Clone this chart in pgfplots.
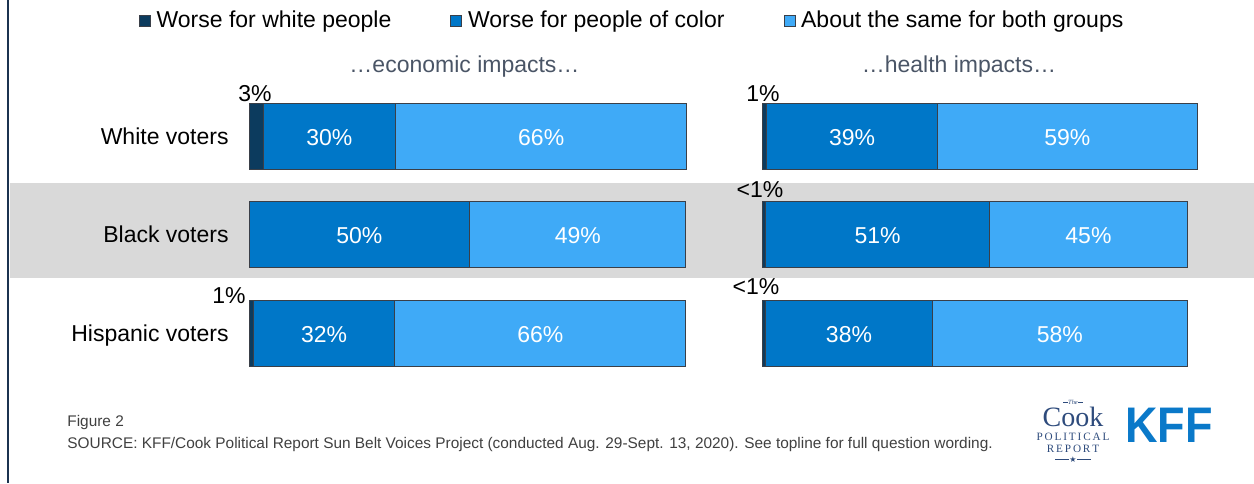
\documentclass[border=0pt]{standalone}
\usepackage{graphicx}
\usepackage{pgfplots}
\pgfplotsset{compat=1.18}
\usepackage{fontspec}
\setmainfont{Liberation Sans}
\newfontfamily\seriffont{Liberation Serif}
\newfontfamily\djv{DejaVu Sans}
\definecolor{cDark}{HTML}{0C3B5E}
\definecolor{cMed}{HTML}{0077C8}
\definecolor{cLight}{HTML}{3FAAF7}
\definecolor{cBand}{HTML}{D9D9D9}
\definecolor{cEdge}{HTML}{3A3F48}
\definecolor{cSub}{HTML}{4A5566}
\definecolor{cFoot}{HTML}{404040}
\definecolor{cCook}{HTML}{2E4B7C}
\definecolor{cKFF}{HTML}{0A79C9}
\definecolor{cBorder}{HTML}{1B3350}
\newcommand\lab{\fontsize{11.5}{13}\selectfont}
\pgfplotsset{
  panel/.style={
    xbar stacked, scale only axis, height=147.375pt,
    xmin=0, xmax=99, ymin=-0.5, ymax=2.5, y dir=reverse,
    bar width=33pt, hide axis, clip=false, anchor=north west,
    every axis plot/.append style={draw=cEdge, line width=0.5pt},
  },
}
\tikzset{
  inlab/.style={font=\lab, text=white, anchor=base, yshift=-4.6pt, inner sep=0pt},
  smlab/.style={font=\lab, text=black, anchor=base, inner sep=0pt},
  catlab/.style={font=\lab, text=black, anchor=base east, yshift=-4.1pt, xshift=-10pt, inner sep=0pt},
}
\begin{document}
\begin{tikzpicture}
\path[use as bounding box] (0pt,0pt) rectangle (627pt,-241.5pt);
\fill[cBand] (4.8pt,-91.5pt) rectangle (627pt,-139pt);
\draw[cBorder, line width=1pt] (4pt,0pt) -- (4pt,-241.5pt);

% ---------- economic impacts ----------
\begin{axis}[panel, width=218.5pt, at={(124.5pt,-43.6875pt)},
  legend style={at={(-0.2517,1.2255)}, anchor=west, draw=none, fill=none,
    inner sep=0pt, outer sep=0pt, legend columns=3,
    nodes={inner sep=0pt, anchor=west, font=\lab},
    /tikz/every odd column/.append style={column sep=3pt},
    /tikz/every even column/.append style={column sep=29.5pt}},
  legend image code/.code={\draw[#1, line width=0.3pt, draw=cEdge] (0pt,-2.75pt) rectangle (5.5pt,2.75pt);},
]
\addplot[fill=cDark] coordinates {(3.2,0) (0,1) (1,2)};
\addplot[fill=cMed] coordinates {(30,0) (50,1) (32,2)};
\addplot[fill=cLight] coordinates {(66,0) (49,1) (66,2)};
\legend{Worse for white people, Worse for people of color, About the same for both groups}
\coordinate (e1) at (axis cs:18.2,0);
\coordinate (e2) at (axis cs:66.2,0);
\coordinate (e3) at (axis cs:25,1);
\coordinate (e4) at (axis cs:74.5,1);
\coordinate (e5) at (axis cs:17,2);
\coordinate (e6) at (axis cs:66,2);
\coordinate (es1) at (axis cs:1.36,-0.361);
\coordinate (es2) at (axis cs:-4.53,1.695);
\coordinate (c1) at (axis cs:0,0);
\coordinate (c2) at (axis cs:0,1);
\coordinate (c3) at (axis cs:0,2);
\end{axis}
\node[inlab] at (e1) {30\%};
\node[inlab] at (e2) {66\%};
\node[inlab] at (e3) {50\%};
\node[inlab] at (e4) {49\%};
\node[inlab] at (e5) {32\%};
\node[inlab] at (e6) {66\%};
\node[smlab] at (es1) {3\%};
\node[smlab] at (es2) {1\%};
\node[catlab] at (c1) {White voters};
\node[catlab] at (c2) {Black voters};
\node[catlab] at (c3) {Hispanic voters};

% ---------- health impacts ----------
\begin{axis}[panel, width=217.5pt, at={(381pt,-43.6875pt)}]
\addplot[fill=cDark] coordinates {(1,0) (0.8,1) (0.8,2)};
\addplot[fill=cMed] coordinates {(39,0) (51,1) (38,2)};
\addplot[fill=cLight] coordinates {(59,0) (45,1) (58,2)};
\coordinate (h1) at (axis cs:20.5,0);
\coordinate (h2) at (axis cs:69.5,0);
\coordinate (h3) at (axis cs:26.3,1);
\coordinate (h4) at (axis cs:74.3,1);
\coordinate (h5) at (axis cs:19.8,2);
\coordinate (h6) at (axis cs:67.8,2);
\coordinate (hs1) at (axis cs:0.23,-0.361);
\coordinate (hs2) at (axis cs:-0.46,0.616);
\coordinate (hs3) at (axis cs:-1.37,1.613);
\end{axis}
\node[inlab] at (h1) {39\%};
\node[inlab] at (h2) {59\%};
\node[inlab] at (h3) {51\%};
\node[inlab] at (h4) {45\%};
\node[inlab] at (h5) {38\%};
\node[inlab] at (h6) {58\%};
\node[smlab] at (hs1) {1\%};
\node[smlab] at (hs2) {<1\%};
\node[smlab] at (hs3) {<1\%};

% titles
\node[font=\lab, text=cSub] at (232.25pt,-33.5pt) {…economic impacts…};
\node[font=\lab, text=cSub] at (479.5pt,-33.5pt) {…health impacts…};

% footer
\node[anchor=west, inner sep=0pt, font=\fontsize{7.7}{9}\selectfont, text=cFoot] at (33.5pt,-211.5pt) {Figure 2};
\node[anchor=west, inner sep=0pt, font=\fontsize{7.7}{9}\selectfont, text=cFoot] at (33.5pt,-222.5pt) {SOURCE: KFF/Cook Political Report Sun Belt Voices Project (conducted Aug. 29-Sept. 13, 2020). See topline for full question wording.};

% logos
\draw[cCook, line width=0.3pt] (531.5pt,-201.2pt) -- (534pt,-201.2pt) (539pt,-201.2pt) -- (541.5pt,-201.2pt);
\node[text=cCook, font=\seriffont\itshape\fontsize{3.2}{4}\selectfont, inner sep=0pt, anchor=base] at (536.5pt,-202pt) {The};
\node[text=cCook, font=\seriffont\fontsize{14}{15}\selectfont, inner sep=0pt, anchor=base] at (536.5pt,-213pt) {Cook};
\node[text=cCook, font=\seriffont\fontsize{5.6}{7}\selectfont, inner sep=0pt, anchor=base] at (536.5pt,-220.3pt) {P\,O\,L\,I\,T\,I\,C\,A\,L};
\node[text=cCook, font=\seriffont\fontsize{5.6}{7}\selectfont, inner sep=0pt, anchor=base] at (536.5pt,-226.3pt) {R\,E\,P\,O\,R\,T};
\draw[cCook, line width=0.4pt] (527.5pt,-229.8pt) -- (534.5pt,-229.8pt) (538.5pt,-229.8pt) -- (545.5pt,-229.8pt);
\node[text=cCook, font=\djv\fontsize{4}{4}\selectfont, inner sep=0pt] at (536.5pt,-229.8pt) {★};
\node[text=cKFF, font=\bfseries\fontsize{25}{26}\selectfont, inner sep=0pt, anchor=base] at (584.5pt,-221pt) {\scalebox{0.9}[1]{KFF}};
\end{tikzpicture}
\end{document}
